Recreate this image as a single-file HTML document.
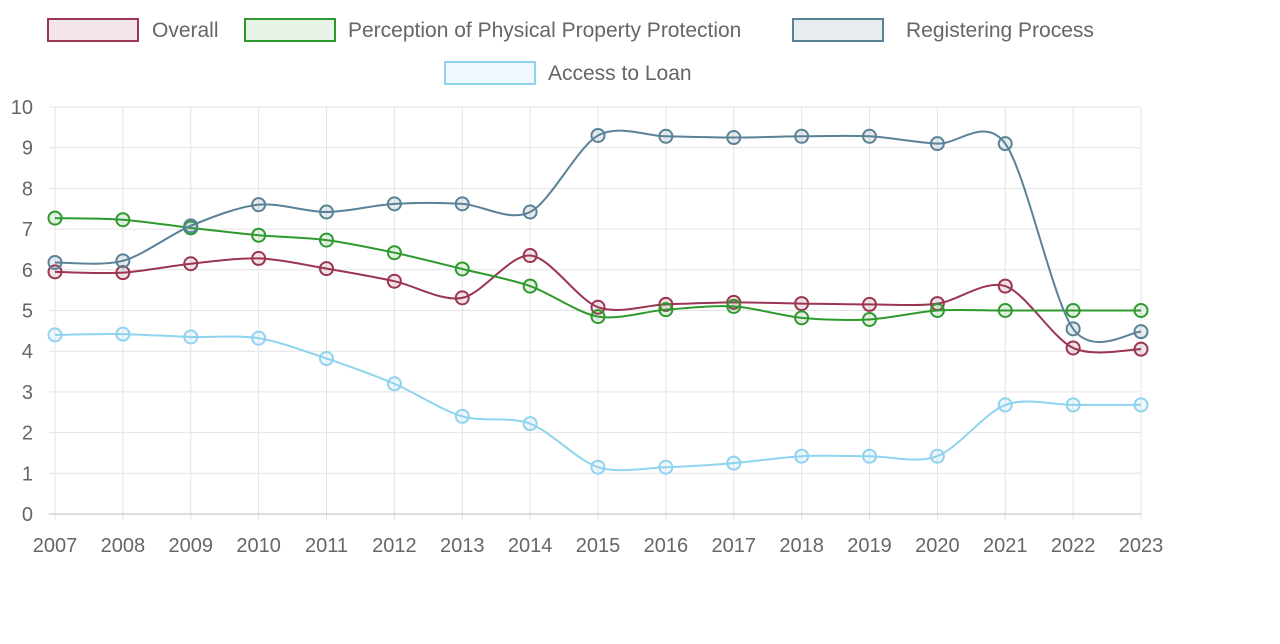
<!DOCTYPE html>
<html><head><meta charset="utf-8"><style>
body{margin:0;background:#fff;font-family:"Liberation Sans",sans-serif}
svg{display:block}
</style></head><body>
<svg id="chart" width="1280" height="644" viewBox="0 0 1280 644" font-family="Liberation Sans, sans-serif">
<g id="grid"></g>
<g id="axes"></g>
<g id="series"></g>
<g id="legend"></g>
</svg>
<script>
const years=["2007","2008","2009","2010","2011","2012","2013","2014","2015","2016","2017","2018","2019","2020","2021","2022","2023"];
const yTicks=[0,1,2,3,4,5,6,7,8,9,10];
const overall=[5.95,5.93,6.15,6.28,6.03,5.72,5.31,6.35,5.08,5.15,5.2,5.17,5.15,5.17,5.6,4.08,4.05];
const perception=[7.27,7.23,7.03,6.85,6.73,6.42,6.02,5.6,4.85,5.02,5.1,4.82,4.78,5.0,5.0,5.0,5.0];
const registering=[6.18,6.22,7.08,7.6,7.42,7.62,7.62,7.42,9.3,9.28,9.25,9.28,9.28,9.1,9.1,4.55,4.48];
const access=[4.4,4.42,4.35,4.32,3.82,3.2,2.4,2.22,1.15,1.15,1.25,1.42,1.42,1.42,2.68,2.68,2.68];
const seriesNames=["Overall","Perception of Physical Property Protection","Registering Process","Access to Loan"];
const NS="http://www.w3.org/2000/svg";
const X0=55,X1=1141,Y0=514,Y1=107;
const xs=i=>X0+(X1-X0)*i/(years.length-1);
const ys=v=>Y0-(Y0-Y1)*v/10;
function mk(t,a,p){const e=document.createElementNS(NS,t);for(const k in a)e.setAttribute(k,a[k]);p.appendChild(e);return e;}
const grid=document.getElementById('grid'),axes=document.getElementById('axes'),ser=document.getElementById('series'),leg=document.getElementById('legend');
years.forEach((y,i)=>{
 const l=mk('line',{x1:xs(i),x2:xs(i),y1:Y1,y2:Y0+6,stroke:'#e4e4e4','stroke-width':1},grid);
 
 
 const t=mk('text',{x:xs(i),y:552,'text-anchor':'middle','font-size':20,fill:'#666'},axes);
 t.textContent=y;
 
 
});
yTicks.forEach(v=>{
 const l=mk('line',{x1:X0-6,x2:X1,y1:ys(v),y2:ys(v),stroke:v===0?'#bbb':'#e4e4e4','stroke-width':1},grid);
 
 
 const t=mk('text',{x:33,y:ys(v)+7,'text-anchor':'end','font-size':20,fill:'#666'},axes);
 t.textContent=v;
 
 
});
function path(vals){
 const p=vals.map((v,i)=>[xs(i),ys(v)]);const k=0.3/2;let d=`M${p[0][0]},${p[0][1]}`;
 for(let i=0;i<p.length-1;i++){
  const a=p[Math.max(0,i-1)],b=p[i],c=p[i+1],e=p[Math.min(p.length-1,i+2)];
  const c1=[b[0]+(c[0]-a[0])*k,b[1]+(c[1]-a[1])*k],c2=[c[0]-(e[0]-b[0])*k,c[1]-(e[1]-b[1])*k];
  d+=`C${c1[0]},${c1[1]} ${c2[0]},${c2[1]} ${c[0]},${c[1]}`;
 }
 return d;
}
const colors=["#9b3550","#2e9a2e","#5a8296","#8fd3ef"];
const fills=["rgba(155,53,80,0.12)","rgba(46,154,46,0.12)","rgba(90,130,150,0.15)","rgba(143,211,239,0.15)"];
const data=[overall,perception,registering,access];
const slugs=["overall","perception","registering","access"];
data.forEach((vals,s)=>{
 const g=mk('g',{},ser);
 
 
 const p=mk('path',{d:path(vals),fill:'none',stroke:colors[s],'stroke-width':2},g);
 
 
 vals.forEach((v,i)=>{
  const c=mk('circle',{cx:xs(i),cy:ys(v),r:6.5,fill:fills[s],stroke:colors[s],'stroke-width':2},g);
  
  
 });
});
const legPos=[[48,19,152],[245,19,348],[793,19,906],[445,62,548]];
seriesNames.forEach((n,s)=>{
 const g=mk('g',{},leg);
 
 
 mk('rect',{x:legPos[s][0],y:legPos[s][1],width:90,height:22,fill:fills[s],stroke:colors[s],'stroke-width':2},g);
 const t=mk('text',{x:legPos[s][2],y:legPos[s][1]+18,'font-size':21,fill:'#666'},g);
 t.textContent=n;
});
</script>
</body></html>
